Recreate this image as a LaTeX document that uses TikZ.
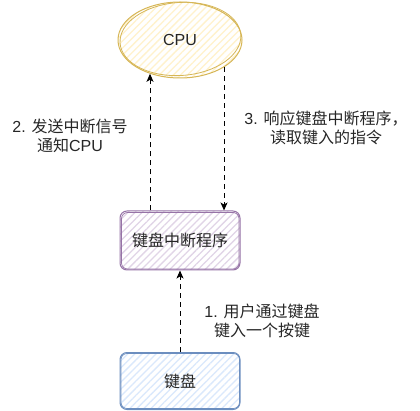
\documentclass[tikz,border=0pt]{standalone}
\usepackage{fontspec}
\setmainfont{Liberation Sans}
\newfontfamily\cjk{Noto Sans CJK SC}
\usetikzlibrary{arrows.meta,patterns.meta,shapes.geometric}
\definecolor{cpufill}{HTML}{FFF2CC}
\definecolor{cpuline}{HTML}{D6B656}
\definecolor{intfill}{HTML}{E1D5E7}
\definecolor{intline}{HTML}{9673A6}
\definecolor{kbfill}{HTML}{DAE8FC}
\definecolor{kbline}{HTML}{6C8EBF}
\definecolor{txt}{HTML}{262626}
\tikzset{
  hatch/.style={preaction={fill=white},pattern={Lines[angle=45,distance=5pt,line width=1.3pt]},pattern color=#1},
  cpushape/.style={ellipse,draw=cpuline,line width=1pt,hatch=cpufill,minimum width=124pt,minimum height=76pt,inner sep=0pt},
  boxshape/.style={rectangle,rounded corners=7pt,line width=1pt,minimum width=120pt,inner sep=0pt},
  lbl/.style={text=txt,font=\fontsize{16pt}{19pt}\selectfont,align=center,inner sep=0pt},
  conn/.style={draw=black,line width=1pt,dash pattern=on 5pt off 4pt,-{Stealth[length=8pt,width=7pt,inset=2pt]}}
}
\begin{document}
\begin{tikzpicture}[x=1pt,y=-1pt]
\useasboundingbox (0,0) rectangle (420,411);
\node[cpushape] (cpu) at (180,40) {};
\draw[cpuline,line width=0.8pt,rotate around={4:(180,40)}] (180.5,39) ellipse [x radius=60.5,y radius=36.5];
\node[lbl] (cputxt) at (cpu.center) {CPU};
\node[boxshape,draw=intline,hatch=intfill,minimum height=59pt] (int) at (180,240.5) {};
\draw[intline,line width=0.7pt,rounded corners=6pt] (121.5,212.5) rectangle (239,269);
\node[lbl] (inttxt) at (int.center) {\cjk 键盘中断程序};
\node[boxshape,draw=kbline,hatch=kbfill,minimum height=57pt] (kb) at (180,381) {};
\draw[kbline,line width=0.7pt,rounded corners=6pt] (121,353.5) rectangle (239.5,408.5);
\node[lbl] (kbtxt) at (kb.center) {\cjk 键盘};
\coordinate (c1) at ([xshift=-30pt]int.north);
\coordinate (c2) at (cpu.228);
\draw[conn] (c1) -- (c1 |- c2);
\coordinate (c3) at (cpu.-32.5);
\draw[conn] (c3) -- (c3 |- int.north);
\draw[conn] (kb.north) -- (int.south);
\node[lbl] (l2) at (70,136) {2. {\cjk 发送中断信号}\\{\cjk 通知}CPU};
\node[lbl] (l3) at (326,128) {3. {\cjk 响应键盘中断程序，}\\{\cjk 读取键入的指令}};
\node[lbl] (l1) at (262,321) {1. {\cjk 用户通过键盘}\\{\cjk 键入一个按键}};
\end{tikzpicture}
\end{document}
